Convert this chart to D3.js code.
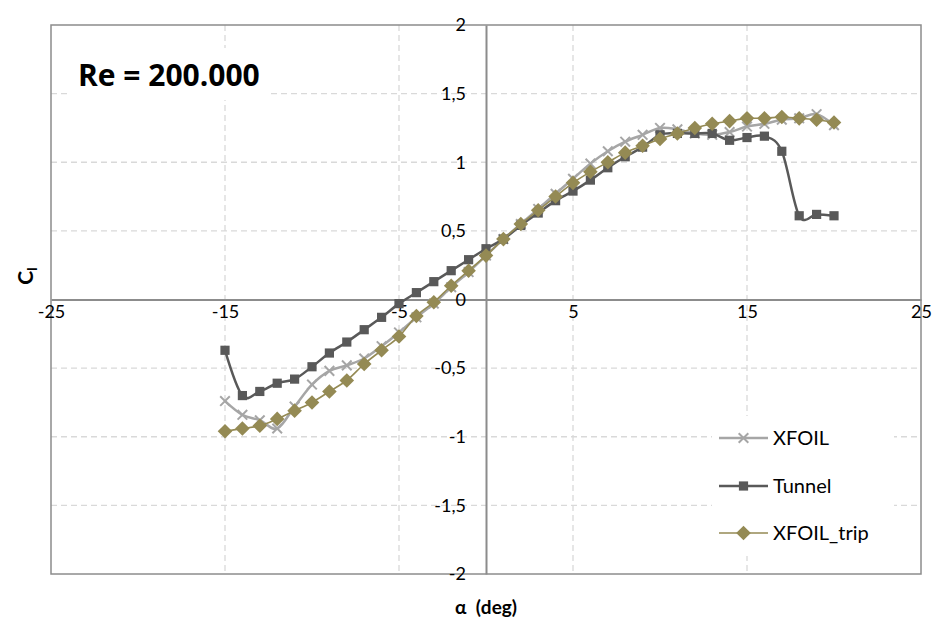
<!DOCTYPE html>
<html>
<head>
<meta charset="utf-8">
<script src="https://cdn.jsdelivr.net/npm/d3@7/dist/d3.min.js"></script>
<style>
  html, body { margin: 0; padding: 0; background: #fff; }
  svg { display: block; font-family: Lato, "Open Sans", "Noto Sans", sans-serif; }
</style>
</head>
<body>
<svg id="chart" width="936" height="626"></svg>
<script>
// Angle of attack (deg)
const alpha = [-15,-14,-13,-12,-11,-10,-9,-8,-7,-6,-5,-4,-3,-2,-1,0,1,2,3,4,5,6,7,8,9,10,11,12,13,14,15,16,17,18,19,20];

// Lift coefficient per series
const clXfoil = [-0.74,-0.84,-0.88,-0.94,-0.78,-0.62,-0.52,-0.48,-0.43,-0.34,-0.24,-0.13,-0.03,0.09,0.20,0.32,0.44,0.55,0.66,0.77,0.88,0.99,1.08,1.15,1.20,1.25,1.24,1.21,1.20,1.22,1.26,1.28,1.31,1.32,1.35,1.27];
const clTunnel = [-0.37,-0.70,-0.67,-0.61,-0.58,-0.49,-0.39,-0.31,-0.22,-0.13,-0.03,0.05,0.13,0.21,0.29,0.37,0.44,0.54,0.63,0.72,0.79,0.87,0.96,1.04,1.11,1.20,1.21,1.21,1.21,1.16,1.18,1.19,1.08,0.61,0.62,0.61];
const clTrip = [-0.96,-0.94,-0.92,-0.87,-0.81,-0.75,-0.67,-0.59,-0.47,-0.37,-0.27,-0.12,-0.02,0.10,0.21,0.32,0.44,0.55,0.65,0.75,0.85,0.93,1.00,1.07,1.12,1.17,1.21,1.25,1.28,1.30,1.32,1.32,1.33,1.32,1.31,1.29];

// Tick values
const xTicks = [-25,-15,-5,5,15,25];
const yTicks = [-2,-1.5,-1,-0.5,0,0.5,1,1.5,2];

const seriesNames = ["XFOIL", "Tunnel", "XFOIL_trip"];
const seriesColors = ["#A6A6A6", "#595959", "#948A54"];

const svg = d3.select("#chart");
const plotL = 51, plotR = 921, plotT = 25, plotB = 574;

const x = d3.scaleLinear().domain([-25, 25]).range([plotL, plotR]);
const y = d3.scaleLinear().domain([-2, 2]).range([plotB, plotT]);

const fmt = v => String(v).replace(".", ",");

// Gridlines (dashed)
const grid = svg.append("g");
grid.selectAll("line.gy").data(yTicks.filter(v => v !== 0 && v !== -2 && v !== 2)).join("line")
  .attr("x1", plotL).attr("x2", plotR)
  .attr("y1", d => y(d)).attr("y2", d => y(d))
  .attr("stroke", "#D9D9D9").attr("stroke-width", 1.3).attr("stroke-dasharray", "6,4");
grid.selectAll("line.gx").data(xTicks.filter(v => v !== -25 && v !== 25)).join("line")
  .attr("y1", plotT).attr("y2", plotB)
  .attr("x1", d => x(d)).attr("x2", d => x(d))
  .attr("stroke", "#D9D9D9").attr("stroke-width", 1.3).attr("stroke-dasharray", "6,4");

// Plot frame
svg.append("rect").attr("x", plotL).attr("y", plotT)
  .attr("width", plotR - plotL).attr("height", plotB - plotT)
  .attr("fill", "none").attr("stroke", "#8C8C8C").attr("stroke-width", 1.5);

// Axes through the origin
const xAxis = d3.axisBottom(x).tickValues(xTicks).tickSize(0).tickPadding(6).tickFormat(fmt);
const yAxis = d3.axisLeft(y).tickValues(yTicks).tickSize(0).tickPadding(20).tickFormat(fmt);

const gx = svg.append("g").attr("transform", `translate(0,${y(0)})`).call(xAxis);
const gy = svg.append("g").attr("transform", `translate(${x(0)},0)`).call(yAxis);
[gx, gy].forEach(g => {
  g.select(".domain").attr("stroke", "#8C8C8C").attr("stroke-width", 2);
  g.selectAll("text").attr("font-size", 18).attr("fill", "#000")
    .attr("font-family", "Lato, 'Open Sans', sans-serif");
});

// Series lines
const line = d3.line().curve(d3.curveCatmullRom.alpha(0)).x((d, i) => x(alpha[i])).y(d => y(d));
const sets = [clXfoil, clTunnel, clTrip];
const widths = [2.5, 2.5, 1.6];

// Markers
function drawMarker(g, kind, cx, cy, color) {
  if (kind === 0) {
    const s = 4.8;
    g.append("path").attr("d", `M${cx-s},${cy-s}L${cx+s},${cy+s}M${cx-s},${cy+s}L${cx+s},${cy-s}`)
      .attr("stroke", color).attr("stroke-width", 2).attr("fill", "none");
  } else if (kind === 1) {
    const s = 4.6;
    g.append("rect").attr("x", cx - s).attr("y", cy - s).attr("width", 2 * s).attr("height", 2 * s)
      .attr("fill", color);
  } else {
    const s = 7.3;
    g.append("path").attr("d", `M${cx},${cy-s}L${cx+s},${cy}L${cx},${cy+s}L${cx-s},${cy}Z`)
      .attr("fill", color);
  }
}

sets.forEach((vals, k) => {
  const g = svg.append("g");
  g.append("path").attr("d", line(vals)).attr("fill", "none")
    .attr("stroke", seriesColors[k]).attr("stroke-width", widths[k]);
  vals.forEach((v, i) => drawMarker(g, k, x(alpha[i]), y(v), seriesColors[k]));
});

// Title box
svg.append("rect").attr("x", 70).attr("y", 48).attr("width", 198).attr("height", 52).attr("fill", "#fff");
svg.append("text").attr("x", 78).attr("y", 86).attr("font-size", 30).attr("font-weight", "bold")
  .attr("font-family", "'Open Sans', Lato, sans-serif")
  .text("Re = 200.000");

// Legend
const lg = svg.append("g");
lg.append("rect").attr("x", 712).attr("y", 416).attr("width", 182).attr("height", 140).attr("fill", "#fff");
const legY = [438, 486, 533];
seriesNames.forEach((name, k) => {
  lg.append("line").attr("x1", 719).attr("x2", 768).attr("y1", legY[k]).attr("y2", legY[k])
    .attr("stroke", seriesColors[k]).attr("stroke-width", widths[k]);
  drawMarker(lg, k, 743.5, legY[k], seriesColors[k]);
  lg.append("text").attr("x", 773).attr("y", legY[k]).attr("dy", "0.35em")
    .attr("font-size", 20).text(name);
});

// Axis titles
svg.append("text").attr("x", x(0)).attr("y", 614).attr("text-anchor", "middle")
  .attr("font-size", 19).attr("font-weight", "bold").attr("xml:space", "preserve")
  .style("white-space", "pre").text("α  (deg)");
const yt = svg.append("text").attr("transform", "translate(33,276) rotate(-90)")
  .attr("text-anchor", "middle").attr("font-size", 21).attr("font-weight", "bold");
yt.append("tspan").text("C");
yt.append("tspan").attr("font-size", 14).attr("dy", 4).text("l");
</script>
</body>
</html>
